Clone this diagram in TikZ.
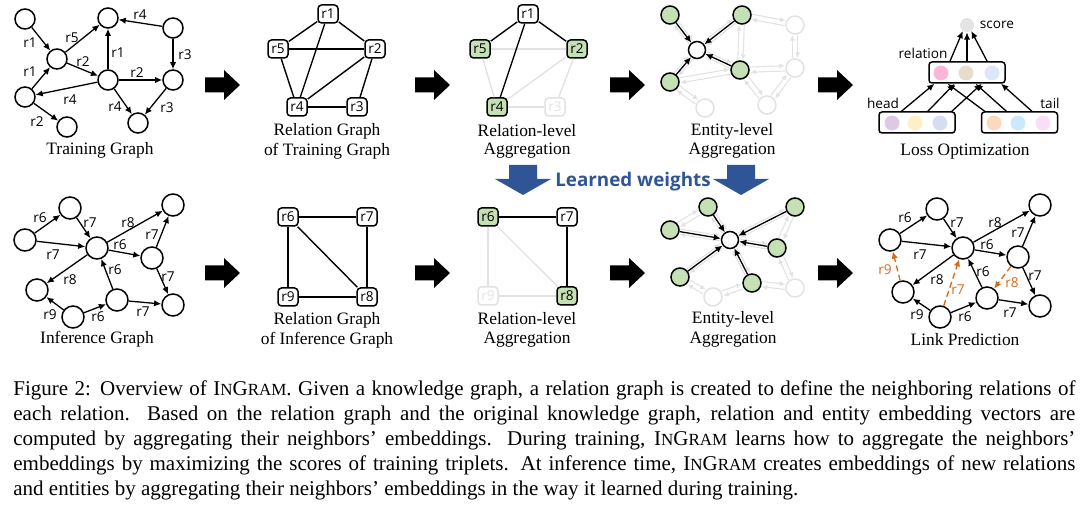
\documentclass[tikz,border=0pt]{standalone}
\usepackage{fontspec}
\setmainfont{Liberation Serif}
\newfontfamily\lblf{Open Sans}
\usetikzlibrary{arrows.meta,calc}
\definecolor{gfill}{HTML}{C5E0B4}
\definecolor{fade}{HTML}{E2E2E2}
\definecolor{blu}{HTML}{2F5597}
\definecolor{orng}{HTML}{D46A1E}
\definecolor{cPink}{HTML}{FBB6D8}
\definecolor{cBeige}{HTML}{E8DCCB}
\definecolor{cBlue}{HTML}{DDE7FB}
\definecolor{cPurp}{HTML}{DCC9E4}
\definecolor{cYel}{HTML}{FDF0C8}
\definecolor{cLav}{HTML}{D5DDF0}
\definecolor{cPeach}{HTML}{FDD8C0}
\definecolor{cSky}{HTML}{CCE9FB}
\definecolor{cLpink}{HTML}{F6E0F5}
\definecolor{cScore}{HTML}{E4E4E4}
\newcommand{\fadepair}[2]{%
  \draw[fd] ($(#1)!1.3pt!90:(#2)$) -- ($(#2)!1.3pt!-90:(#1)$);
  \draw[fd] ($(#2)!1.3pt!90:(#1)$) -- ($(#1)!1.3pt!-90:(#2)$);}
\newcommand{\IGram}{I{\fontsize{8.5pt}{8pt}\selectfont N}G{\fontsize{8.5pt}{8pt}\selectfont RAM}}
\begin{document}
\begin{tikzpicture}[x=0.5pt,y=-0.5pt,
 lbl/.style={font=\lblf\fontsize{6.8pt}{8pt}\selectfont, inner sep=0.5pt},
 captxt/.style={font=\fontsize{8.7pt}{10pt}\selectfont, inner sep=0pt},
 ent/.style={circle,draw,line width=0.75pt,minimum size=10pt,inner sep=0pt,fill=white},
 entl/.style={ent,minimum size=11pt},
 gent/.style={ent,fill=gfill,minimum size=9pt},
 went/.style={ent,minimum size=8.5pt},
 fent/.style={ent,draw=fade,minimum size=9pt},
 rel/.style={rectangle,rounded corners=1.8pt,draw,line width=0.75pt,minimum width=10pt,minimum height=9pt,inner sep=0pt,font=\lblf\fontsize{6.8pt}{8pt}\selectfont,fill=white},
 grel/.style={rel,fill=gfill},
 frel/.style={rel,draw=fade,text=fade},
 ar/.style={-{Latex[length=3.6pt,width=3.2pt]},line width=0.65pt},
 ln/.style={line width=0.7pt},
 fln/.style={line width=0.7pt,draw=fade},
 fd/.style={draw=fade,line width=0.55pt,-{Latex[length=2.8pt,width=2.6pt]},shorten <=5pt,shorten >=5pt},
 oar/.style={ar,draw=orng,dash pattern=on 3pt off 1.8pt},
 olbl/.style={lbl,text=orng},
 vbox/.style={rectangle,rounded corners=1.5pt,draw,line width=0.75pt,minimum width=38pt,minimum height=10.5pt,inner sep=0pt},
 dot/.style={circle,minimum size=7.5pt,inner sep=0pt},
 capline/.style={anchor=base west,inner sep=0pt,font=\fontsize{10.5pt}{12pt}\selectfont},
]
\useasboundingbox (0,0) rectangle (1080,507);

% ---------------- Training graph ----------------
\node[ent] (tA) at (25,19) {};
\node[ent] (tB) at (57,59) {};
\node[ent] (tC) at (108,18) {};
\node[ent] (tD) at (173,28) {};
\node[ent] (tE) at (25,97) {};
\node[ent] (tF) at (108,80) {};
\node[ent] (tG) at (173,80) {};
\node[ent] (tH) at (67,127) {};
\node[ent] (tI) at (138,123) {};
\draw[ar] (tA) -- (tB);
\draw[ar] (tE) -- (tB);
\draw[ar] (tB) -- (tC);
\draw[ar] (tB) -- (tF);
\draw[ar] (tF) -- (tC);
\draw[ar] (tD) -- (tC);
\draw[ar] (tD) -- (tG);
\draw[ar] (tF) -- (tG);
\draw[ar] (tF) -- (tE);
\draw[ar] (tE) -- (tH);
\draw[ar] (tF) -- (tI);
\draw[ar] (tG) -- (tI);
\node[lbl] (tl1) at (30,43) {r1};
\node[lbl] (tl2) at (30,72) {r1};
\node[lbl] (tl3) at (72,38) {r5};
\node[lbl] (tl4) at (83,62) {r2};
\node[lbl] (tl5) at (118,53) {r1};
\node[lbl] (tl6) at (140,15) {r4};
\node[lbl] (tl7) at (185,55) {r3};
\node[lbl] (tl8) at (137,73) {r2};
\node[lbl] (tl9) at (70,100) {r4};
\node[lbl] (tl10) at (37,122) {r2};
\node[lbl] (tl11) at (115,107) {r4};
\node[lbl] (tl12) at (167,108) {r3};
\node[captxt] (tcap) at (100,150) {Training Graph};

% ---------------- Relation graph (training) ----------------
\node[rel] (rt1) at (328,14) {r1};
\node[rel] (rt5) at (278,49) {r5};
\node[rel] (rt2) at (375,49) {r2};
\node[rel] (rt4) at (297,107) {r4};
\node[rel] (rt3) at (357,107) {r3};
\draw[ln] (rt1) -- (rt5);
\draw[ln] (rt1) -- (rt2);
\draw[ln] (rt1) -- (rt4);
\draw[ln] (rt5) -- (rt2);
\draw[ln] (rt5) -- (rt4);
\draw[ln] (rt2) -- (rt4);
\draw[ln] (rt2) -- (rt3);
\draw[ln] (rt4) -- (rt3);
\node[captxt] (rtc1) at (327,131) {Relation Graph};
\node[captxt] (rtc2) at (327,151) {of Training Graph};

% ---------------- Relation-level aggregation (training) ----------------
\node[rel] (ra1) at (528,14) {r1};
\node[grel] (ra5) at (480,49) {r5};
\node[grel] (ra2) at (577,49) {r2};
\node[grel] (ra4) at (497,107) {r4};
\node[frel] (ra3) at (555,107) {r3};
\draw[fln] (ra5) -- (ra2);
\draw[fln] (ra5) -- (ra4);
\draw[fln] (ra2) -- (ra4);
\draw[fln] (ra2) -- (ra3);
\draw[fln] (ra4) -- (ra3);
\draw[ln] (ra1) -- (ra5);
\draw[ln] (ra1) -- (ra2);
\draw[ln] (ra1) -- (ra4);
\node[captxt] (rac1) at (527,131) {Relation-level};
\node[captxt] (rac2) at (527,151) {Aggregation};

% ---------------- Entity-level aggregation (training) ----------------
\node[went] (eB) at (697,50) {};
\node[gent] (eA) at (670,15) {};
\node[gent] (eC) at (742,15) {};
\node[gent] (eE) at (670,82) {};
\node[gent] (eF) at (740,70) {};
\node[fent] (eD) at (795,25) {};
\node[fent] (eG) at (795,68) {};
\node[fent] (eI) at (767,105) {};
\node[fent] (eH) at (705,108) {};
\fadepair{eA}{eB}
\fadepair{eE}{eB}
\fadepair{eB}{eC}
\fadepair{eB}{eF}
\fadepair{eF}{eC}
\fadepair{eD}{eC}
\fadepair{eD}{eG}
\fadepair{eF}{eG}
\fadepair{eF}{eE}
\fadepair{eE}{eH}
\fadepair{eF}{eI}
\fadepair{eG}{eI}
\draw[ar] (eA) -- (eB);
\draw[ar] (eC) -- (eB);
\draw[ar] (eE) -- (eB);
\draw[ar] (eF) -- (eB);
\node[captxt] (ec1) at (732,131) {Entity-level};
\node[captxt] (ec2) at (732,151) {Aggregation};

% ---------------- Loss optimization ----------------
\node[circle,fill=cScore,minimum size=7pt,inner sep=0pt] (sc) at (967,25) {};
\node[lbl] (scl) at (997,25) {score};
\node[vbox] (rb) at (967,72.5) {};
\node[vbox] (hb) at (917,122.5) {};
\node[vbox] (tb) at (1019.5,122.5) {};
\node[dot,fill=cPink] (rd1) at (941,73) {};
\node[dot,fill=cBeige] (rd2) at (966,73) {};
\node[dot,fill=cBlue] (rd3) at (992,73) {};
\node[dot,fill=cPurp] (hd1) at (892,123) {};
\node[dot,fill=cYel] (hd2) at (915,123) {};
\node[dot,fill=cLav] (hd3) at (940,123) {};
\node[dot,fill=cPeach] (td1) at (994,123) {};
\node[dot,fill=cSky] (td2) at (1018,123) {};
\node[dot,fill=cLpink] (td3) at (1043,123) {};
\node[lbl] (rl) at (923,53) {relation};
\node[lbl] (hl) at (883,103) {head};
\node[lbl] (tl) at (1050,103) {tail};
\coordinate (hs1) at ($(hb.north west)!0.30!(hb.north east)$);
\coordinate (hs2) at ($(hb.north west)!0.64!(hb.north east)$);
\coordinate (hs3) at ($(hb.north west)!0.95!(hb.north east)$);
\coordinate (ts1) at ($(tb.north west)!0.05!(tb.north east)$);
\coordinate (ts2) at ($(tb.north west)!0.33!(tb.north east)$);
\coordinate (ts3) at ($(tb.north west)!0.66!(tb.north east)$);
\coordinate (re1) at ($(rb.south west)!0.08!(rb.south east)$);
\coordinate (re2) at ($(rb.south west)!0.34!(rb.south east)$);
\coordinate (re3) at ($(rb.south west)!0.69!(rb.south east)$);
\coordinate (re4) at ($(rb.south west)!0.25!(rb.south east)$);
\coordinate (re5) at ($(rb.south west)!0.61!(rb.south east)$);
\coordinate (re6) at ($(rb.south west)!0.94!(rb.south east)$);
\draw[ar] (hs1) -- (re1);
\draw[ar] (hs2) -- (re2);
\draw[ar] (hs3) -- (re3);
\draw[ar] (ts1) -- (re4);
\draw[ar] (ts2) -- (re5);
\draw[ar] (ts3) -- (re6);
\coordinate (rt_1) at ($(rb.north west)!0.28!(rb.north east)$);
\coordinate (rt_2) at ($(rb.north west)!0.5!(rb.north east)$);
\coordinate (rt_3) at ($(rb.north west)!0.76!(rb.north east)$);
\draw[ar] (rt_1) -- (sc.235);
\draw[ar] (rt_2) -- (sc.south);
\draw[ar] (rt_3) -- (sc.305);
\node[captxt] (lc) at (965,152) {Loss Optimization};

% ---------------- Block arrows ----------------
\foreach \bx/\by in {205/85,415/85,610/85,818/85,205/273,415/273,610/273,818/273}{
  \fill (\bx,\by-7.5) -- (\bx+19,\by-7.5) -- (\bx+19,\by-15) -- (\bx+35,\by)
     -- (\bx+19,\by+15) -- (\bx+19,\by+7.5) -- (\bx,\by+7.5) -- cycle;}

% ---------------- Learned weights ----------------
\foreach \cx in {523,741}{
  \fill[blu] (\cx-14,165) -- (\cx+14,165) -- (\cx+14,179) -- (\cx+28,179)
     -- (\cx,195) -- (\cx-28,179) -- (\cx-14,179) -- cycle;}
\node[font=\lblf\bfseries\fontsize{9.4pt}{11pt}\selectfont,text=blu,inner sep=0pt] (lw) at (633,182) {Learned weights};

% ---------------- Inference graph ----------------
\node[entl] (ia) at (25,240) {};
\node[entl] (ib) at (70,208) {};
\node[entl] (ic) at (97,248) {};
\node[entl] (id) at (173,205) {};
\node[entl] (ie) at (152,258) {};
\node[entl] (if) at (37,290) {};
\node[entl] (ig) at (117,300) {};
\node[entl] (ih) at (73,317) {};
\node[entl] (ii) at (173,305) {};
\draw[ar] (ia) -- (ib);
\draw[ar] (ib) -- (ic);
\draw[ar] (ia) -- (ic);
\draw[ar] (ic) -- (id);
\draw[ar] (ic) -- (ie);
\draw[ar] (ie) -- (id);
\draw[ar] (ie) -- (ii);
\draw[ar] (ic) -- (if);
\draw[ar] (ig) -- (ic);
\draw[ar] (ih) -- (if);
\draw[ar] (ih) -- (ig);
\draw[ar] (ig) -- (ii);
\node[lbl] (il1) at (40,218) {r6};
\node[lbl] (il2) at (90,223) {r7};
\node[lbl] (il3) at (53,255) {r7};
\node[lbl] (il4) at (128,223) {r8};
\node[lbl] (il5) at (120,245) {r6};
\node[lbl] (il6) at (152,235) {r7};
\node[lbl] (il7) at (168,277) {r7};
\node[lbl] (il8) at (70,280) {r8};
\node[lbl] (il9) at (115,270) {r6};
\node[lbl] (il10) at (50,315) {r9};
\node[lbl] (il11) at (98,317) {r6};
\node[lbl] (il12) at (143,312) {r7};
\node[captxt] (icap) at (97,339) {Inference Graph};

% ---------------- Relation graph (inference) ----------------
\node[rel] (ri6) at (288,217) {r6};
\node[rel] (ri7) at (367,217) {r7};
\node[rel] (ri9) at (288,297) {r9};
\node[rel] (ri8) at (367,297) {r8};
\draw[ln] (ri6) -- (ri7);
\draw[ln] (ri6) -- (ri9);
\draw[ln] (ri6) -- (ri8);
\draw[ln] (ri7) -- (ri8);
\draw[ln] (ri9) -- (ri8);
\node[captxt] (ric1) at (327,320) {Relation Graph};
\node[captxt] (ric2) at (327,340) {of Inference Graph};

% ---------------- Relation-level aggregation (inference) ----------------
\node[grel] (rb6) at (488,217) {r6};
\node[rel] (rb7) at (567,217) {r7};
\node[frel] (rb9) at (488,296) {r9};
\node[grel] (rb8) at (567,296) {r8};
\draw[fln] (rb6) -- (rb9);
\draw[fln] (rb6) -- (rb8);
\draw[fln] (rb9) -- (rb8);
\draw[ln] (rb6) -- (rb7);
\draw[ln] (rb7) -- (rb8);
\node[captxt] (rbc1) at (527,319) {Relation-level};
\node[captxt] (rbc2) at (527,340) {Aggregation};

% ---------------- Entity-level aggregation (inference) ----------------
\node[went] (bc) at (730,240) {};
\node[gent] (bb) at (708,207) {};
\node[gent] (ba) at (670,230) {};
\node[gent] (bd) at (795,207) {};
\node[gent] (be) at (777,248) {};
\node[gent] (bf) at (680,277) {};
\node[gent] (bg) at (752,283) {};
\node[fent] (bh) at (713,297) {};
\node[fent] (bi) at (795,288) {};
\fadepair{ba}{bb}
\fadepair{bb}{bc}
\fadepair{ba}{bc}
\fadepair{bc}{bd}
\fadepair{bc}{be}
\fadepair{be}{bd}
\fadepair{be}{bi}
\fadepair{bc}{bf}
\fadepair{bg}{bc}
\fadepair{bh}{bf}
\fadepair{bh}{bg}
\fadepair{bg}{bi}
\draw[ar] (bb) -- (bc);
\draw[ar] (ba) -- (bc);
\draw[ar] (bd) -- (bc);
\draw[ar] (be) -- (bc);
\draw[ar] (bf) -- (bc);
\draw[ar] (bg) -- (bc);
\node[captxt] (bcap1) at (733,319) {Entity-level};
\node[captxt] (bcap2) at (733,340) {Aggregation};

% ---------------- Link prediction ----------------
\node[entl] (la) at (890,240) {};
\node[entl] (lb) at (937,209) {};
\node[entl] (lc) at (963,248) {};
\node[entl] (ld) at (1040,205) {};
\node[entl] (le) at (1018,257) {};
\node[entl] (lf) at (903,292) {};
\node[entl] (lg) at (987,298) {};
\node[entl] (lh) at (940,317) {};
\node[entl] (li) at (1040,306) {};
\draw[ar] (la) -- (lb);
\draw[ar] (lb) -- (lc);
\draw[ar] (la) -- (lc);
\draw[ar] (lc) -- (ld);
\draw[ar] (lc) -- (le);
\draw[ar] (le) -- (ld);
\draw[ar] (le) -- (li);
\draw[ar] (lc) -- (lf);
\draw[ar] (lg) -- (lc);
\draw[ar] (lh) -- (lf);
\draw[ar] (lh) -- (lg);
\draw[ar] (lg) -- (li);
\draw[oar] (lf) -- (la);
\draw[oar] (lh) -- (lc);
\draw[oar] (le) -- (lg);
\node[lbl] (ll1) at (905,218) {r6};
\node[lbl] (ll2) at (957,223) {r7};
\node[lbl] (ll3) at (920,255) {r7};
\node[lbl] (ll4) at (995,223) {r8};
\node[lbl] (ll5) at (987,245) {r6};
\node[lbl] (ll6) at (1018,233) {r7};
\node[lbl] (ll7) at (1035,276) {r7};
\node[lbl] (ll8) at (937,280) {r8};
\node[lbl] (ll9) at (983,272) {r6};
\node[lbl] (ll10) at (917,315) {r9};
\node[lbl] (ll11) at (965,317) {r6};
\node[lbl] (ll12) at (1010,313) {r7};
\node[olbl] (lo1) at (885,270) {r9};
\node[olbl] (lo2) at (958,290) {r7};
\node[olbl] (lo3) at (1012,283) {r8};
\node[captxt] (lcap) at (965,340) {Link Prediction};

% ---------------- Caption ----------------
\node[capline] (c1) at (13,395) {\makebox[531pt][s]{Figure 2: Overview of \IGram. Given a knowledge graph, a relation graph is created to define the neighboring relations of}};
\node[capline] (c2) at (13,420) {\makebox[531pt][s]{each relation. Based on the relation graph and the original knowledge graph, relation and entity embedding vectors are}};
\node[capline] (c3) at (13,445) {\makebox[531pt][s]{computed by aggregating their neighbors’ embeddings. During training, \IGram\ learns how to aggregate the neighbors’}};
\node[capline] (c4) at (13,470) {\makebox[531pt][s]{embeddings by maximizing the scores of training triplets. At inference time, \IGram\ creates embeddings of new relations}};
\node[capline] (c5) at (13,495) {and entities by aggregating their neighbors’ embeddings in the way it learned during training.};
\end{tikzpicture}
\end{document}
